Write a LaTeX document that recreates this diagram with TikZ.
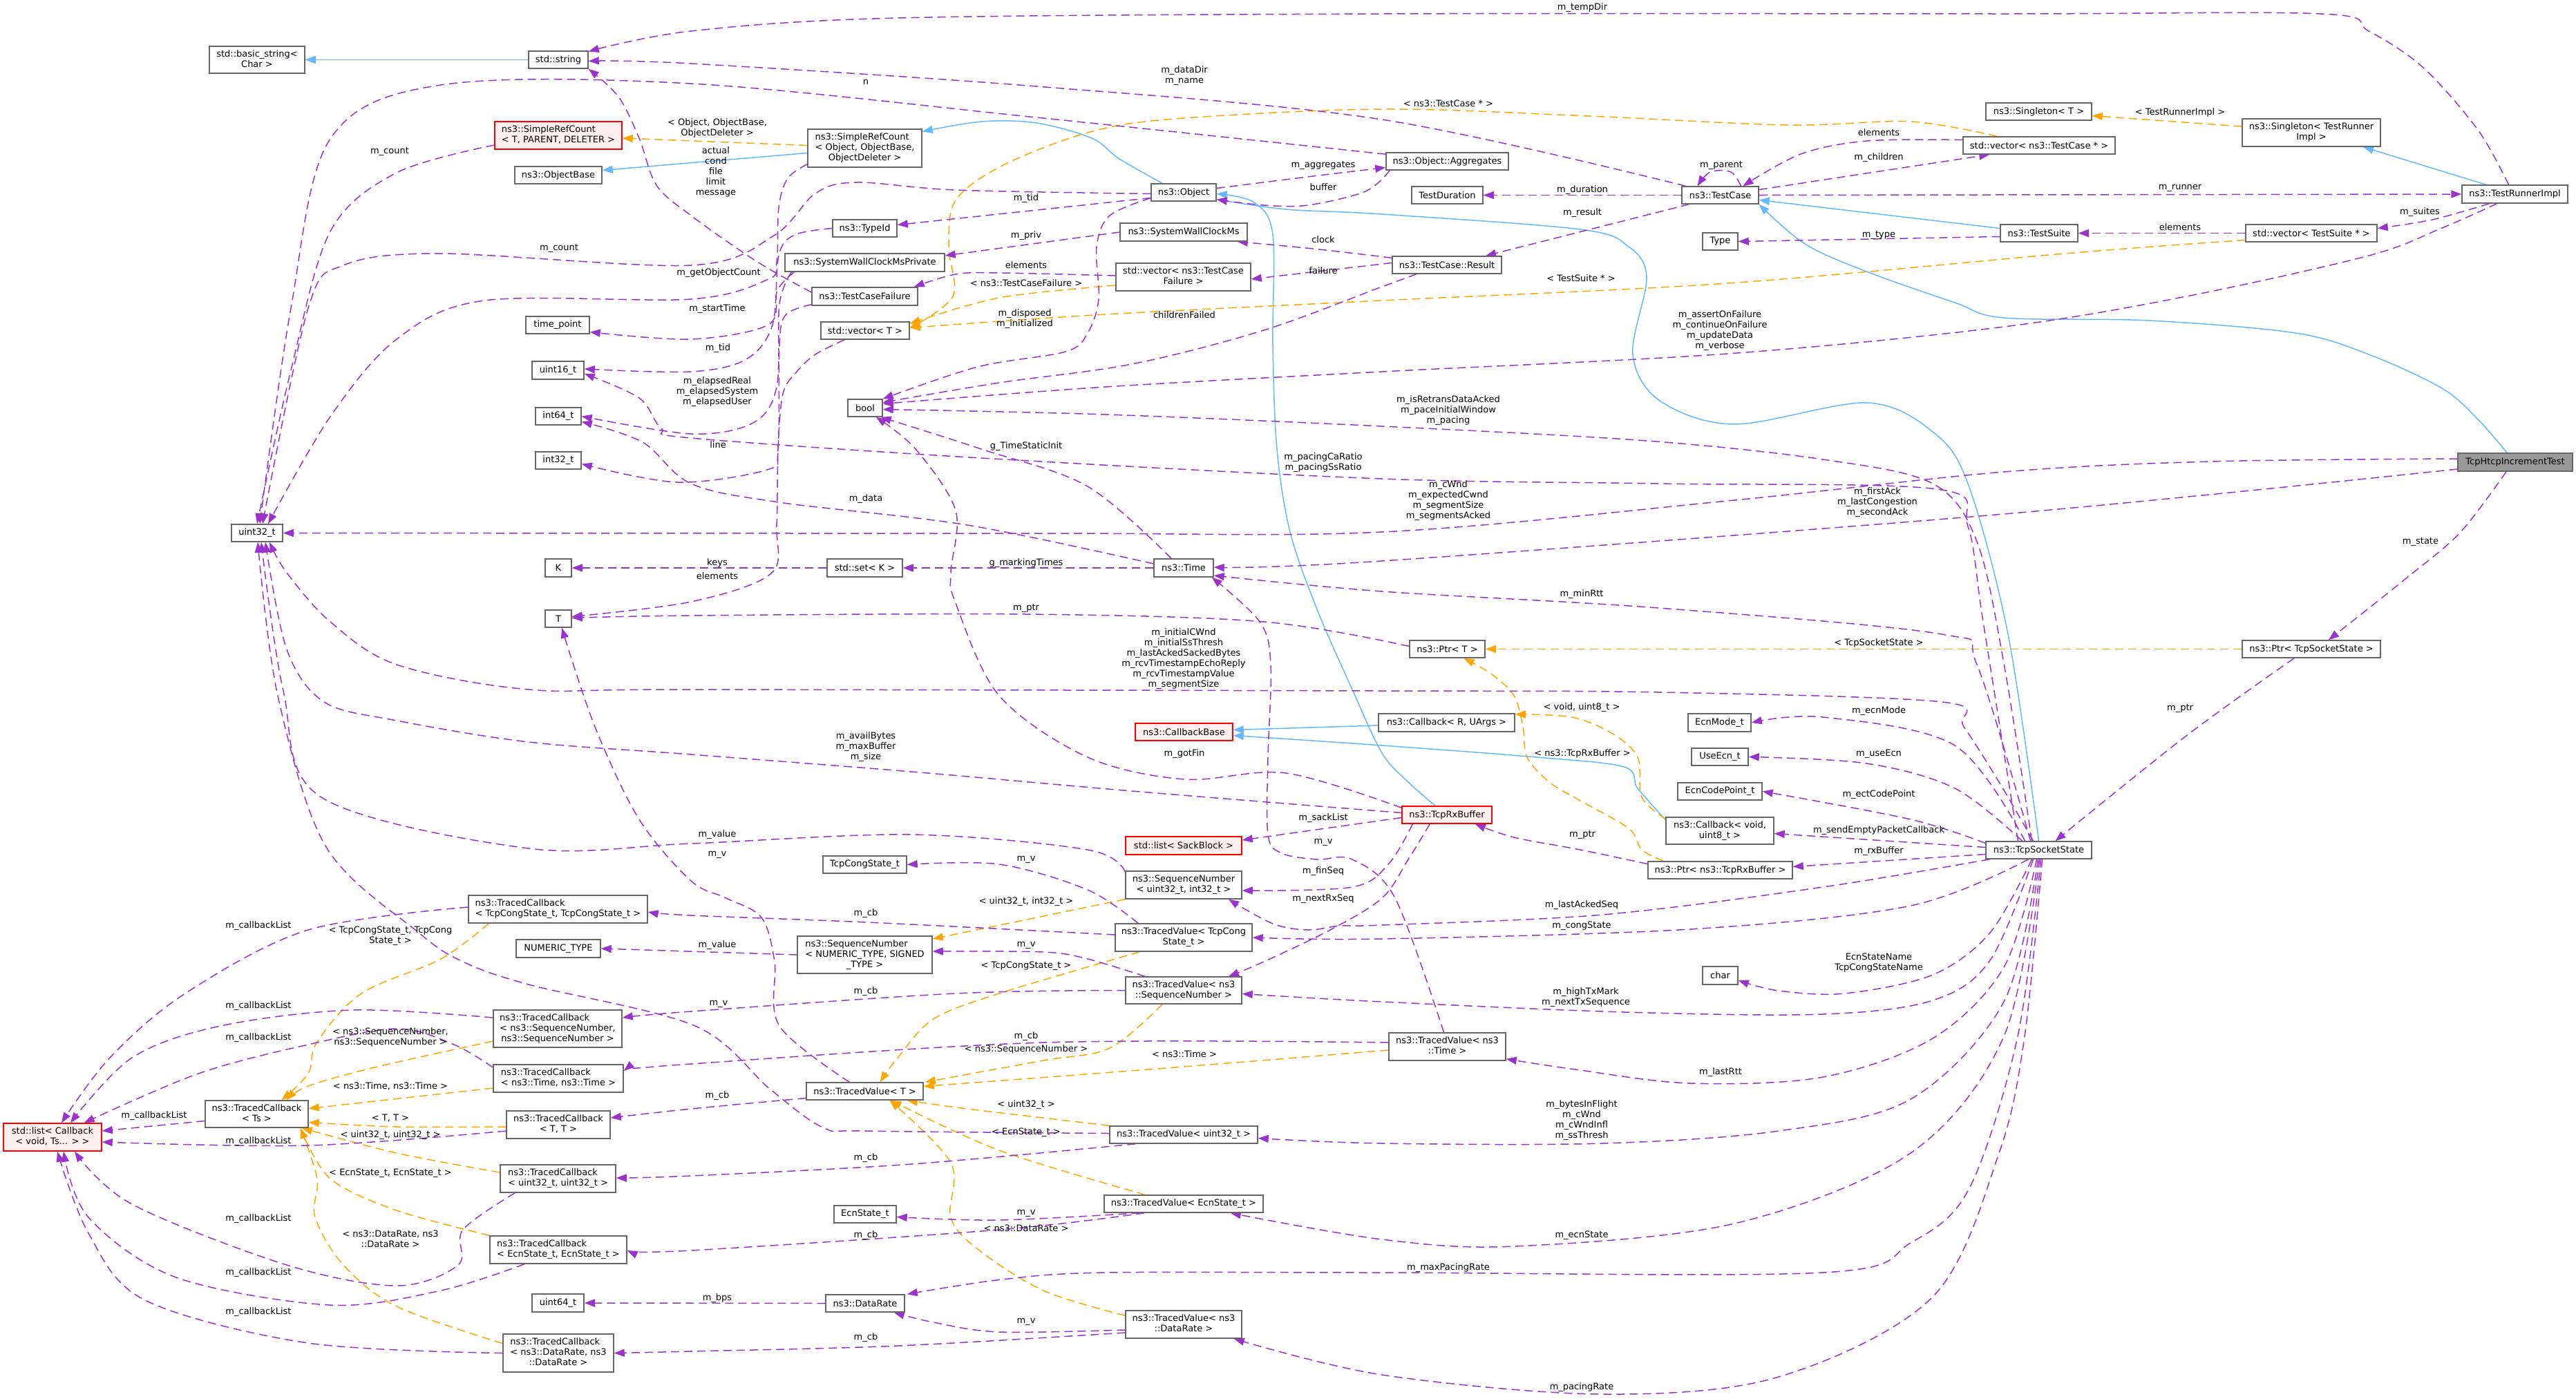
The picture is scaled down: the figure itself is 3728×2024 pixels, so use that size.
\documentclass[tikz,border=0pt]{standalone}
\usepackage{fontspec}
\setmainfont{DejaVu Sans}
\usetikzlibrary{arrows.meta,calc}
\definecolor{purp}{HTML}{9A32CD}
\definecolor{orng}{HTML}{FFA500}
\definecolor{blu}{HTML}{63B8FF}
\definecolor{bgray}{HTML}{666666}
\definecolor{rfill}{HTML}{FFF0F0}
\definecolor{rootfill}{HTML}{999999}
\newcommand\nf{\fontsize{13}{15}\selectfont}
\newcommand\FLn[2]{\begin{tabular}{@{}c@{}}\multicolumn{1}{@{}l@{}}{#1}\\#2\end{tabular}}
\newcommand\Nd[7]{\node[#6,minimum width=#4pt,minimum height=#5pt] (#1) at (#2,#3) {#7};}
\newcommand\Lbl[4]{\node[lbl] (#1) at (#2,#3) {#4};}
\newcommand\Ed[2]{\draw[#1] plot[smooth,tension=0.55] coordinates {#2};}
\pgfdeclarelayer{bg}
\pgfsetlayers{bg,main}
\tikzset{
 box/.style={draw=bgray, fill=white, line width=1.5pt, inner sep=0pt, align=center, font=\nf},
 redbox/.style={box, draw=red, fill=rfill},
 rootbox/.style={box, fill=rootfill},
 lbl/.style={inner sep=0pt, align=center, font=\nf},
 edgebase/.style={line width=1.5pt, -{Triangle[length=15pt,width=11pt]}},
 pe/.style={edgebase, draw=purp, dash pattern=on 12pt off 7pt},
 oe/.style={edgebase, draw=orng, dash pattern=on 12pt off 7pt},
 be/.style={edgebase, draw=blu},
}
\begin{document}
\begin{tikzpicture}[x=1pt,y=-1pt]
\begin{pgfonlayer}{bg}
\path[use as bounding box, fill=white] (0,0) rectangle (3728,2024);
\end{pgfonlayer}
% ---------------- nodes
\Nd{basicstr}{372}{86.5}{138}{39}{box}{\FLn{std::basic\_string<}{Char >}}
\Nd{stdstr}{808}{86.5}{86}{25}{box}{std::string}
\Nd{srcT}{808}{196}{184}{40}{redbox}{\FLn{ns3::SimpleRefCount}{< T, PARENT, DELETER >}}
\Nd{objbase}{808}{253.5}{126}{25}{box}{ns3::ObjectBase}
\Nd{tpoint}{807}{470.5}{92}{25}{box}{time\_point}
\Nd{u16}{807.5}{536}{75}{26}{box}{uint16\_t}
\Nd{i64}{808}{602.5}{66}{25}{box}{int64\_t}
\Nd{i32}{808}{666.5}{66}{25}{box}{int32\_t}
\Nd{u32}{372}{771.5}{74}{25}{box}{uint32\_t}
\Nd{K}{808}{822}{38}{26}{box}{K}
\Nd{T}{808}{895.5}{38}{25}{box}{T}
\Nd{srcO}{1251.5}{214.5}{165}{55}{box}{\FLn{ns3::SimpleRefCount}{< Object, ObjectBase,\\ObjectDeleter >}}
\Nd{obj}{1713}{278.5}{94}{25}{box}{ns3::Object}
\Nd{tid}{1251.5}{330.5}{93}{25}{box}{ns3::TypeId}
\Nd{swcm}{1713}{336}{184}{26}{box}{ns3::SystemWallClockMs}
\Nd{swcmp}{1251.5}{380}{231}{26}{box}{ns3::SystemWallClockMsPrivate}
\Nd{vtcf}{1712.5}{401}{195}{40}{box}{\FLn{std::vector< ns3::TestCase}{Failure >}}
\Nd{tcf}{1251.5}{429}{153}{26}{box}{ns3::TestCaseFailure}
\Nd{vecT}{1252}{478.5}{128}{25}{box}{std::vector< T >}
\Nd{bool}{1252}{590.5}{50}{25}{box}{bool}
\Nd{aggr}{2094.5}{233.5}{177}{25}{box}{ns3::Object::Aggregates}
\Nd{tdur}{2094.5}{282.5}{103}{25}{box}{TestDuration}
\Nd{tcase}{2489.5}{282.5}{111}{25}{box}{ns3::TestCase}
\Nd{type}{2489.5}{349.5}{51}{25}{box}{Type}
\Nd{result}{2094}{383.5}{158}{25}{box}{ns3::TestCase::Result}
\Nd{tsuite}{2951}{337.5}{112}{25}{box}{ns3::TestSuite}
\Nd{vtc}{2951}{210.5}{220}{25}{box}{std::vector< ns3::TestCase * >}
\Nd{singT}{2950.5}{161.5}{153}{25}{box}{ns3::Singleton< T >}
\Nd{singTR}{3345}{192}{200}{40}{box}{\FLn{ns3::Singleton< TestRunner}{Impl >}}
\Nd{runner}{3639.5}{281}{153}{26}{box}{ns3::TestRunnerImpl}
\Nd{vts}{3345}{337.5}{190}{25}{box}{std::vector< TestSuite * >}
\Nd{root}{3640}{669}{166}{26}{rootbox}{TcpHtcpIncrementTest}
\Nd{setK}{1251.5}{822}{109}{26}{box}{std::set< K >}
\Nd{time}{1713}{822}{86}{26}{box}{ns3::Time}
\Nd{cbb}{1713.5}{1059.5}{141}{25}{redbox}{ns3::CallbackBase}
\Nd{sack}{1713}{1224}{168}{26}{redbox}{std::list< SackBlock >}
\Nd{tcs}{1251.5}{1251.5}{121}{25}{box}{TcpCongState\_t}
\Nd{seq32}{1713}{1281}{168}{40}{box}{\FLn{ns3::SequenceNumber}{< uint32\_t, int32\_t >}}
\Nd{ptrT}{2094.5}{939.5}{109}{25}{box}{ns3::Ptr< T >}
\Nd{cbru}{2093.5}{1046}{197}{26}{box}{ns3::Callback< R, UArgs >}
\Nd{ecnm}{2488.5}{1046}{91}{26}{box}{EcnMode\_t}
\Nd{useecn}{2489}{1095.5}{82}{25}{box}{UseEcn\_t}
\Nd{ecncp}{2489}{1145.5}{122}{25}{box}{EcnCodePoint\_t}
\Nd{rxb}{2094}{1179.5}{130}{25}{redbox}{ns3::TcpRxBuffer}
\Nd{cbv}{2489}{1202.5}{156}{39}{box}{\FLn{ns3::Callback< void,}{uint8\_t >}}
\Nd{ptrrx}{2489.5}{1259.5}{209}{25}{box}{ns3::Ptr< ns3::TcpRxBuffer >}
\Nd{tss}{2950.5}{1230.5}{153}{25}{box}{ns3::TcpSocketState}
\Nd{ptrtss}{3345}{939.5}{200}{25}{box}{ns3::Ptr< TcpSocketState >}
\Nd{list}{76}{1646}{142}{40}{redbox}{\FLn{std::list< Callback}{< void, Ts... > >}}
\Nd{tcts}{371.5}{1612.5}{149}{39}{box}{\FLn{ns3::TracedCallback}{< Ts >}}
\Nd{tccong}{807.5}{1316}{259}{40}{box}{\FLn{ns3::TracedCallback}{< TcpCongState\_t, TcpCongState\_t >}}
\Nd{numt}{808}{1373}{122}{26}{box}{NUMERIC\_TYPE}
\Nd{tcseq}{807}{1489}{186}{54}{box}{\FLn{ns3::TracedCallback}{< ns3::SequenceNumber,\\ns3::SequenceNumber >}}
\Nd{tctime}{808}{1561}{188}{40}{box}{\FLn{ns3::TracedCallback}{< ns3::Time, ns3::Time >}}
\Nd{tctt}{808}{1628}{150}{40}{box}{\FLn{ns3::TracedCallback}{< T, T >}}
\Nd{tcu32}{807.5}{1706}{167}{40}{box}{\FLn{ns3::TracedCallback}{< uint32\_t, uint32\_t >}}
\Nd{tcecn}{808}{1809}{198}{40}{box}{\FLn{ns3::TracedCallback}{< EcnState\_t, EcnState\_t >}}
\Nd{u64}{807.5}{1886}{75}{26}{box}{uint64\_t}
\Nd{tcdr}{808}{1958.5}{160}{55}{box}{\FLn{ns3::TracedCallback}{< ns3::DataRate, ns3\\::DataRate >}}
\Nd{seqn}{1251.5}{1382}{195}{54}{box}{\FLn{ns3::SequenceNumber}{< NUMERIC\_TYPE, SIGNED\\\_TYPE >}}
\Nd{tvcong}{1713}{1357}{198}{40}{box}{\FLn{ns3::TracedValue< TcpCong}{State\_t >}}
\Nd{tvseq}{1713}{1433.5}{168}{39}{box}{\FLn{ns3::TracedValue< ns3}{::SequenceNumber >}}
\Nd{tvT}{1251.5}{1579.5}{169}{25}{box}{ns3::TracedValue< T >}
\Nd{tvu32}{1713}{1642.5}{214}{25}{box}{ns3::TracedValue< uint32\_t >}
\Nd{tvecn}{1713}{1742.5}{230}{25}{box}{ns3::TracedValue< EcnState\_t >}
\Nd{ecns}{1252}{1757.5}{90}{25}{box}{EcnState\_t}
\Nd{drate}{1252}{1886.5}{114}{25}{box}{ns3::DataRate}
\Nd{tvdr}{1713}{1917}{168}{40}{box}{\FLn{ns3::TracedValue< ns3}{::DataRate >}}
\Nd{chr}{2489.5}{1412}{51}{26}{box}{char}
\Nd{tvtime}{2094.5}{1515}{169}{40}{box}{\FLn{ns3::TracedValue< ns3}{::Time >}}
% ---------------- edges
\begin{pgfonlayer}{bg}
% inheritance (blue)
\draw[be] (stdstr.west) -- (basicstr.east);
\Ed{be}{($(root.north)+(-12,0)$) (3586,607) (3534,562) (3428,513) (3322,482) (3111,464) (2900,460) (2829,438) (2701,393) (2612,353) (tcase.south east)}
\draw[be] ($(runner.north)+(-42,0)$) -- ($(singTR.south)+(75,0)$);
\draw[be] ($(tsuite.west)+(0,-7)$) -- ($(tcase.east)+(0,7)$);
\draw[be] ($(srcO.west)+(0,7)$) -- ($(objbase.east)+(0,-7)$);
\Ed{be}{($(obj.north)+(-31,0)$) (1620,230) (1580,200) (1500,178) (1420,176) ($(srcO.east)+(0,-24)$)}
\Ed{be}{($(rxb.north)+(-17,0)$) (2038,1132) (2000,1090) (1957,998) (1906,882) (1867,770) (1848,650) (1842,500) (1842,340) (1815,293) ($(obj.east)+(0,2)$)}
\Ed{be}{(tss.north) (2906,918) (2848,700) (2797,625) (2701,583) (2510,614) (2402,580) (2363,513) (2383,402) (2357,357) (2287,332) (2000,310) (1861,303) ($(obj.east)+(0,10)$)}
\draw[be] ($(cbru.west)+(0,4)$) -- ($(cbb.east)+(0,-3)$);
\Ed{be}{($(cbv.west)+(0,-16)$) (2370,1141) (2350,1110) (2223,1096) (2000,1079) ($(cbb.east)+(0,5)$)}
% template (orange)
\draw[oe] ($(singTR.west)+(0,-9)$) -- ($(singT.east)+(0,6)$);
\Ed{oe}{($(vtc.north)+(-61,0)$) (2765,176) (2587,181) (2300,168) (2000,158) (1700,172) (1574,192) (1450,240) (1383,290) (1373,357) (1379,429) ($(vecT.east)+(0,-4)$)}
\Ed{oe}{($(vts.west)+(0,10)$) (3000,366) (2500,410) (2000,435) (1600,455) ($(vecT.east)+(0,-4)$)}
\Ed{oe}{($(vtcf.west)+(0,12)$) (1446,431) ($(vecT.east)+(0,-10)$)}
\draw[oe] ($(srcO.west)+(0,-4)$) -- ($(srcT.east)+(0,4)$);
\draw[oe] (ptrtss.west) -- (ptrT.east);
\Ed{oe}{($(ptrrx.north west)+(23,0)$) (2376,1230) (2357,1199) (2287,1159) (2242,1132) (2210,1096) (2204,1052) (2191,1007) (2159,976) ($(ptrT.south)+(24,0)$)}
\Ed{oe}{($(cbv.north west)+(0,3)$) (2376,1154) (2370,1096) (2332,1061) (2274,1038) ($(cbru.east)+(0,-12)$)}
\draw[oe] (seq32.south west) -- ($(seqn.east)+(0,-23)$);
\Ed{oe}{($(tvcong.south west)+(36,0)$) (1446,1438) (1351,1475) (1300,1530) ($(tvT.north)+(22,0)$)}
\Ed{oe}{($(tvseq.south)+(-31,0)$) (1606,1517) (1510,1535) ($(tvT.north east)+(2,0)$)}
\Ed{oe}{($(tvtime.west)+(0,5)$) (1700,1545) ($(tvT.east)+(0,-7)$)}
\Ed{oe}{(tvu32.north west) (1400,1605) ($(tvT.south east)+(-24,0)$)}
\Ed{oe}{($(tvecn.north)+(-56,0)$) (1446,1665) ($(tvT.south)+(38,0)$)}
\Ed{oe}{($(tvdr.north west)+(0,8)$) (1510,1868) (1415,1808) (1376,1762) (1376,1683) ($(tvT.south)+(36,0)$)}
\Ed{oe}{($(tccong.south west)+(30,0)$) (638,1388) (523,1438) (459,1508) (446,1554) ($(tcts.north)+(36,0)$)}
\Ed{oe}{($(tcseq.west)+(0,18)$) (542,1545) (446,1572) ($(tcts.north)+(43,0)$)}
\draw[oe] ($(tctime.west)+(0,14)$) -- ($(tcts.east)+(0,-8)$);
\Ed{oe}{($(tctt.west)+(0,3)$) (574,1631) ($(tcts.east)+(0,12)$)}
\Ed{oe}{($(tcu32.west)+(0,-9)$) (574,1669) ($(tcts.south east)+(-10,0)$)}
\Ed{oe}{(tcecn.north west) (574,1752) (478,1706) ($(tcts.south east)+(-12,0)$)}
\Ed{oe}{($(tcdr.west)+(0,-14)$) (574,1891) (497,1831) (456,1762) (459,1706) ($(tcts.south east)+(-12,0)$)}
% usage (purple)
\Ed{pe}{($(root.west)+(0,-5)$) (3200,668) (2900,683) (2500,725) (2000,770) (1500,772) (u32.east)}
\Ed{pe}{($(root.west)+(0,10)$) (2900,744) (2000,812) ($(time.east)+(0,-1)$)}
\Ed{pe}{($(root.south)+(-13,0)$) (3560,771) (3481,838) ($(ptrtss.north)+(25,0)$)}
\Ed{pe}{($(runner.north)+(-9,0)$) (3586,188) (3507,98) (3428,45) (3359,20) (2900,20) (2000,20) (1300,26) (1000,45) ($(stdstr.east)+(0,-12)$)}
\Ed{pe}{($(runner.south)+(-37,0)$) (3520,318) ($(vts.east)+(0,-7)$)}
\Ed{pe}{($(runner.south)+(-26,0)$) (3534,330) (3428,370) (3164,429) (2900,473) (2500,512) (2000,538) (1600,560) ($(bool.east)+(0,-6)$)}
\draw[pe] (tcase.east) -- (runner.west);
\Ed{pe}{($(tcase.north west)+(6,0)$) (2000,173) (1500,125) (1000,92) ($(stdstr.east)+(0,2)$)}
\Ed{pe}{($(aggr.north west)+(0,3)$) (1500,170) (1000,121) (638,123) (478,201) (421,446) ($(u32.north)+(4,0)$)}
\Ed{pe}{($(aggr.south west)+(6,0)$) (1976,277) (1893,297) (1829,297) ($(obj.south east)+(0,-3)$)}
\Ed{pe}{($(obj.east)+(0,-6)$) (1900,255) ($(aggr.west)+(0,9)$)}
\draw[pe] ($(obj.west)+(0,8)$) -- ($(tid.east)+(0,-5)$);
\Ed{pe}{($(obj.south west)+(0,-5)$) (1606,312) (1587,357) (1590,433) (1574,482) (1542,509) (1415,531) (bool.north east)}
\Ed{pe}{($(obj.west)+(0,2)$) (1383,275) (1240,264) (1180,280) (1120,341) (1000,384) (638,367) (497,384) (446,446) ($(u32.north)+(8,0)$)}
\Ed{pe}{($(srcO.south west)+(0,-5)$) (1140,258) (1127,300) (1124,380) (1110,405) (1000,433) (701,435) (574,491) (478,603) ($(u32.north)+(16,0)$)}
\Ed{pe}{($(srcT.west)+(0,14)$) (574,250) (478,335) (421,536) (u32.north)}
\Ed{pe}{($(tcf.west)+(0,-6)$) (1096,379) (1000,312) (950,268) (925,200) (895,140) (stdstr.south east)}
\draw[pe] (swcm.west) -- ($(swcmp.east)+(0,-10)$);
\Ed{pe}{(tid.west) (1150,340) (1127,370) (1118,470) (1080,520) (1000,538) ($(u16.east)+(0,-2)$)}
\Ed{pe}{($(swcmp.south west)+(14,0)$) (1125,420) (1112,470) (1000,491) ($(tpoint.east)+(0,10)$)}
\Ed{pe}{($(swcmp.south west)+(10,0)$) (1128,440) (1124,560) (1090,612) (1000,628) (i64.east)}
\Ed{pe}{($(tcf.south west)+(0,-2)$) (1137,456) (1128,500) (1126,650) (1110,680) (980,698) ($(i32.east)+(0,5)$)}
\Ed{pe}{($(time.west)+(0,-6)$) (1400,760) (1127,727) (1000,700) (930,640) ($(i64.east)+(0,8)$)}
\Ed{pe}{($(tss.north)+(-30,0)$) (2870,900) (2848,762) (2803,708) (2400,700) (2000,693) (1420,663) (1000,634) (957,620) (925,576) ($(u16.east)+(0,5)$)}
\Ed{pe}{($(tss.north)+(-8,0)$) (2893,1132) (2842,1052) (2810,1016) (2400,1002) (2000,1000) (1000,998) (765,998) (574,962) (478,900) (415,829) ($(u32.south)+(18,0)$)}
\Ed{pe}{($(tss.north)+(-10,0)$) (2900,960) (2861,784) (2797,700) (2638,665) (2383,638) (2000,617) (1600,600) ($(bool.east)+(0,2)$)}
\Ed{pe}{($(tss.north)+(-12,0)$) (2861,962) (2810,918) (2400,880) (2000,856) ($(time.east)+(0,11)$)}
\Ed{pe}{($(tss.north)+(-20,0)$) (2829,1079) (2638,1038) (ecnm.east)}
\Ed{pe}{($(tss.north)+(-24,0)$) (2829,1141) (2701,1105) (useecn.east)}
\Ed{pe}{($(tss.west)+(0,-10)$) (2765,1186) (ecncp.east)}
\draw[pe] ($(tss.west)+(0,-4)$) -- ($(cbv.east)+(0,4)$);
\draw[pe] ($(tss.west)+(0,6)$) -- ($(ptrrx.east)+(0,-5)$);
\Ed{pe}{($(tss.south west)+(6,0)$) (2638,1284) (2319,1324) (2000,1339) (1940,1340) (1893,1346) (1842,1337) ($(seq32.south)+(65,0)$)}
\Ed{pe}{($(tss.south)+(-15,0)$) (2765,1311) (2446,1345) (2000,1359) (tvcong.east)}
\Ed{pe}{($(tss.south)+(-8,0)$) (2880,1390) (2797,1448) (2638,1468) (2351,1465) (2000,1450) ($(tvseq.east)+(0,5)$)}
\Ed{pe}{($(tss.south)+(-10,0)$) (2880,1350) (2797,1411) (2670,1438) (2574,1434) ($(chr.east)+(0,7)$)}
\Ed{pe}{($(tss.south)+(-3,0)$) (2900,1400) (2797,1503) (2638,1559) (2446,1568) (2280,1548) ($(tvtime.south east)+(0,-3)$)}
\Ed{pe}{($(tss.south)+(-1,0)$) (2900,1450) (2765,1591) (2574,1637) (2319,1655) (2000,1655) ($(tvu32.east)+(0,5)$)}
\Ed{pe}{($(tss.south)+(1,0)$) (2900,1500) (2765,1669) (2510,1771) (2191,1804) (2000,1794) ($(tvecn.south east)+(-48,0)$)}
\Ed{pe}{($(tss.south)+(3,0)$) (2920,1500) (2850,1720) (2765,1799) (2638,1842) (2000,1842) (1600,1842) (1450,1852) ($(drate.north east)+(3,0)$)}
\Ed{pe}{($(tss.south)+(5,0)$) (2930,1500) (2893,1669) (2797,1877) (2574,1993) (2319,2018) (2000,1990) ($(tvdr.south east)+(-12,0)$)}
\Ed{pe}{($(ptrtss.south)+(-25,0)$) (3164,1065) ($(tss.north)+(24,0)$)}
\Ed{pe}{($(ptrT.west)+(0,-4)$) (1829,900) (1485,889) (1000,891) ($(T.east)+(0,-1)$)}
\Ed{pe}{($(rxb.west)+(0,-3)$) (1638,1145) (1319,1117) (1000,1092) (765,1074) (574,1043) (469,1016) (415,940) ($(u32.south)+(12,0)$)}
\Ed{pe}{($(rxb.north west)+(0,3)$) (1861,1119) (1714,1128) (1574,1096) (1446,1007) (1383,873) (1376,829) (1383,739) (1325,650) ($(bool.south east)+(-10,0)$)}
\draw[pe] ($(rxb.west)+(0,4)$) -- ($(sack.east)+(0,-8)$);
\Ed{pe}{($(rxb.south west)+(16,0)$) (2010,1250) (1957,1284) ($(seq32.east)+(0,8)$)}
\Ed{pe}{($(rxb.south west)+(41,0)$) (2038,1244) (2000,1300) (1925,1346) (1829,1392) ($(tvseq.north)+(65,0)$)}
\Ed{pe}{($(ptrrx.west)+(0,-9)$) (2287,1230) (2191,1212) ($(rxb.south east)+(-25,0)$)}
\draw[pe] (time.west) -- (setK.east);
\Ed{pe}{($(time.north)+(-18,0)$) (1574,704) (1420,650) ($(bool.south east)+(-3,0)$)}
\draw[pe] (setK.west) -- (K.east);
\Ed{pe}{($(vecT.south west)+(35,0)$) (1180,513) (1153,538) (1133,570) (1126,650) (1124,760) (1116,830) (1000,871) ($(T.east)+(0,-3)$)}
\Ed{pe}{($(tvtime.north)+(-5,0)$) (2019,1300) (1957,1244) (1906,1244) (1855,1235) (1835,1208) (1835,1096) (1839,962) (1823,900) ($(time.south east)+(-3,0)$)}
\Ed{pe}{($(tvT.north west)+(63,0)$) (1128,1485) (1121,1392) (1102,1328) (1051,1300) (1000,1275) (925,1186) (861,1052) ($(T.south)+(5,0)$)}
\Ed{pe}{($(seq32.west)+(0,-19)$) (1574,1230) (1319,1208) (1000,1221) (765,1228) (465,1154) (410,1000) ($(u32.south)+(6,0)$)}
\Ed{pe}{($(tvu32.west)+(0,-2)$) (1255,1637) (1191,1632) (1115,1577) (1006,1485) (765,1425) (670,1392) (606,1350) (472,1226) (402,1007) ($(u32.south)+(1,0)$)}
\Ed{pe}{($(tvcong.west)+(0,-4)$) (1255,1335) (1000,1325) ($(tccong.east)+(0,4)$)}
\Ed{pe}{($(tvcong.north)+(-66,0)$) (1574,1288) (1446,1251) (tcs.east)}
\Ed{pe}{(tvseq.west) (1383,1438) (1000,1464) ($(tcseq.east)+(0,-16)$)}
\Ed{pe}{($(tvseq.north)+(-56,0)$) (1574,1388) (1510,1378) ($(seqn.east)+(0,-5)$)}
\draw[pe] (seqn.west) -- (numt.east);
\Ed{pe}{($(tvtime.west)+(0,-6)$) (1510,1509) (1000,1540) ($(tctime.east)+(0,-11)$)}
\Ed{pe}{($(tvT.west)+(0,10)$) (1000,1605) ($(tctt.east)+(0,-10)$)}
\Ed{pe}{($(tvu32.south west)+(38,0)$) (1319,1685) (1000,1702) ($(tcu32.east)+(0,-1)$)}
\Ed{pe}{($(tvecn.south west)+(52,0)$) (1446,1766) ($(ecns.east)+(0,4)$)}
\Ed{pe}{($(tvecn.south west)+(59,0)$) (1446,1780) (1000,1810) ($(tcecn.east)+(0,1)$)}
\Ed{pe}{($(tvdr.west)+(0,8)$) (1446,1928) (1351,1914) ($(drate.south east)+(-16,0)$)}
\Ed{pe}{($(tvdr.west)+(0,12)$) (1300,1948) (1000,1956) (tcdr.east)}
\draw[pe] (drate.west) -- (u64.east);
\draw[pe] ($(tcts.west)+(0,10)$) -- ($(list.east)+(0,-9)$);
\Ed{pe}{($(tccong.west)+(0,-3)$) (446,1346) (268,1438) (159,1531) ($(list.north)+(13,0)$)}
\Ed{pe}{($(tcseq.west)+(0,-16)$) (510,1462) (319,1485) (191,1531) ($(list.north)+(26,0)$)}
\Ed{pe}{($(tctime.west)+(0,-16)$) (657,1512) (574,1489) (446,1512) (287,1554) ($(list.north east)+(-26,0)$)}
\Ed{pe}{($(tctt.west)+(0,9)$) (446,1658) ($(list.east)+(0,7)$)}
\Ed{pe}{($(tcu32.south west)+(22,0)$) (670,1780) (663,1831) (574,1861) (415,1831) (191,1743) ($(list.south)+(32,0)$)}
\Ed{pe}{($(tcecn.south)+(-49,0)$) (638,1868) (478,1889) (255,1849) (128,1762) ($(list.south)+(16,0)$)}
\Ed{pe}{(tcdr.west) (446,1944) (210,1882) (128,1785) ($(list.south)+(7,0)$)}
\Ed{pe}{($(vtcf.west)+(0,-2)$) (1446,395) (1383,397) ($(tcf.north east)+(-6,0)$)}
\draw[pe] ($(result.west)+(0,-3)$) -- ($(vtcf.east)+(0,3)$);
\Ed{pe}{($(result.north west)+(0,3)$) (1900,360) ($(swcm.south east)+(-15,0)$)}
\Ed{pe}{($(result.south west)+(36,0)$) (2000,415) (1829,478) (1638,527) (1446,554) ($(bool.east)+(0,-8)$)}
\draw[pe] (tcase.west) -- (tdur.east);
\draw[pe] ($(tcase.south west)+(11,0)$) -- ($(result.north)+(56,0)$);
\draw[pe] ($(tcase.east)+(0,-8)$) -- ($(vtc.south west)+(39,0)$);
\Ed{pe}{($(vtc.west)+(0,-8)$) (2702,204) (2606,223) ($(tcase.north)+(33,0)$)}
\Ed{pe}{($(tcase.north)+(30,0)$) (2505,249) (2475,249) ($(tcase.north)+(-33,0)$)}
\draw[pe] ($(tsuite.west)+(0,5)$) -- (type.east);
\draw[pe] (vts.west) -- (tsuite.east);
\end{pgfonlayer}
% ---------------- labels
\Lbl{l1}{2290}{11}{m\_tempDir}
\Lbl{l2}{1253}{119}{n}
\Lbl{l3}{1714}{110}{m\_dataDir\\m\_name}
\Lbl{l4}{1038}{185}{< Object, ObjectBase,\\ObjectDeleter >}
\Lbl{l5}{564}{219}{m\_count}
\Lbl{l6}{1036}{249}{actual\\cond\\file\\limit\\message}
\Lbl{l7}{809}{359}{m\_count}
\Lbl{l8}{1040}{395}{m\_getObjectCount}
\Lbl{l9}{1038}{447}{m\_startTime}
\Lbl{l10}{1039}{504}{m\_tid}
\Lbl{l11}{1038}{567}{m\_elapsedReal\\m\_elapsedSystem\\m\_elapsedUser}
\Lbl{l12}{1039}{644}{line}
\Lbl{l13}{1915}{239}{m\_aggregates}
\Lbl{l14}{1915}{271}{buffer}
\Lbl{l15}{1485}{287}{m\_tid}
\Lbl{l16}{1485}{341}{m\_priv}
\Lbl{l17}{1915}{347}{clock}
\Lbl{l18}{1485}{384}{elements}
\Lbl{l19}{1915}{392}{failure}
\Lbl{l20}{1485}{410}{< ns3::TestCaseFailure >}
\Lbl{l21}{1483}{462}{m\_disposed\\m\_initialized}
\Lbl{l22}{1714}{456}{childrenFailed}
\Lbl{l23}{1485}{646}{g\_TimeStaticInit}
\Lbl{l24}{1915}{670}{m\_pacingCaRatio\\m\_pacingSsRatio}
\Lbl{l25}{1253}{722}{m\_data}
\Lbl{l26}{1038}{815}{keys}
\Lbl{l27}{1038}{834}{elements}
\Lbl{l28}{1485}{815}{g\_markingTimes}
\Lbl{l29}{1485}{880}{m\_ptr}
\Lbl{l30}{1713}{954}{m\_initialCWnd\\m\_initialSsThresh\\m\_lastAckedSackedBytes\\m\_rcvTimestampEchoReply\\m\_rcvTimestampValue\\m\_segmentSize}
\Lbl{l31}{1253}{1081}{m\_availBytes\\m\_maxBuffer\\m\_size}
\Lbl{l32}{1714}{1091}{m\_gotFin}
\Lbl{l33}{1038}{1208}{m\_value}
\Lbl{l34}{1038}{1237}{m\_v}
\Lbl{l35}{1915}{1184}{m\_sackList}
\Lbl{l36}{1915}{1219}{m\_v}
\Lbl{l37}{1915}{1261}{m\_finSeq}
\Lbl{l38}{1915}{1301}{m\_nextRxSeq}
\Lbl{l39}{1485}{1305}{< uint32\_t, int32\_t >}
\Lbl{l40}{1253}{1322}{m\_cb}
\Lbl{l41}{1485}{1244}{m\_v}
\Lbl{l42}{1038}{1368}{m\_value}
\Lbl{l43}{1485}{1368}{m\_v}
\Lbl{l44}{1485}{1398}{< TcpCongState\_t >}
\Lbl{l45}{1253}{1435}{m\_cb}
\Lbl{l46}{1040}{1453}{m\_v}
\Lbl{l47}{1485}{1500}{m\_cb}
\Lbl{l48}{1485}{1519}{< ns3::SequenceNumber >}
\Lbl{l49}{1714}{1526}{< ns3::Time >}
\Lbl{l50}{1038}{1586}{m\_cb}
\Lbl{l51}{1485}{1599}{< uint32\_t >}
\Lbl{l52}{1485}{1639}{< EcnState\_t >}
\Lbl{l53}{1253}{1676}{m\_cb}
\Lbl{l54}{1485}{1756}{m\_v}
\Lbl{l55}{1485}{1778}{< ns3::DataRate >}
\Lbl{l56}{1253}{1788}{m\_cb}
\Lbl{l57}{1038}{1879}{m\_bps}
\Lbl{l58}{1485}{1913}{m\_v}
\Lbl{l59}{1253}{1936}{m\_cb}
\Lbl{l60}{2096}{150}{< ns3::TestCase * >}
\Lbl{l61}{2719}{192}{elements}
\Lbl{l62}{2719}{228}{m\_children}
\Lbl{l63}{2491}{239}{m\_parent}
\Lbl{l64}{2290}{275}{m\_duration}
\Lbl{l65}{2290}{308}{m\_result}
\Lbl{l66}{2719}{340}{m\_type}
\Lbl{l67}{2288}{403}{< TestSuite * >}
\Lbl{l68}{2489}{479}{m\_assertOnFailure\\m\_continueOnFailure\\m\_updateData\\m\_verbose}
\Lbl{l69}{2096}{594}{m\_isRetransDataAcked\\m\_paceInitialWindow\\m\_pacing}
\Lbl{l70}{3155}{163}{< TestRunnerImpl >}
\Lbl{l71}{3155}{272}{m\_runner}
\Lbl{l72}{3502}{307}{m\_suites}
\Lbl{l73}{3155}{329}{elements}
\Lbl{l74}{2096}{725}{m\_cWnd\\m\_expectedCwnd\\m\_segmentSize\\m\_segmentsAcked}
\Lbl{l75}{2717}{727}{m\_firstAck\\m\_lastCongestion\\m\_secondAck}
\Lbl{l76}{2289}{860}{m\_minRtt}
\Lbl{l77}{2719}{931}{< TcpSocketState >}
\Lbl{l78}{2289}{1024}{< void, uint8\_t >}
\Lbl{l79}{2719}{1029}{m\_ecnMode}
\Lbl{l80}{2290}{1091}{< ns3::TcpRxBuffer >}
\Lbl{l81}{2719}{1091}{m\_useEcn}
\Lbl{l82}{2719}{1150}{m\_ectCodePoint}
\Lbl{l83}{2290}{1208}{m\_ptr}
\Lbl{l84}{2719}{1202}{m\_sendEmptyPacketCallback}
\Lbl{l85}{2719}{1232}{m\_rxBuffer}
\Lbl{l86}{2289}{1310}{m\_lastAckedSeq}
\Lbl{l87}{2289}{1340}{m\_congState}
\Lbl{l88}{3503}{784}{m\_state}
\Lbl{l89}{3155}{1025}{m\_ptr}
\Lbl{l90}{2719}{1394}{EcnStateName\\TcpCongStateName}
\Lbl{l91}{2295}{1444}{m\_highTxMark\\m\_nextTxSequence}
\Lbl{l92}{2490}{1552}{m\_lastRtt}
\Lbl{l93}{2289}{1622}{m\_bytesInFlight\\m\_cWnd\\m\_cWndInfl\\m\_ssThresh}
\Lbl{l94}{2289}{1788}{m\_ecnState}
\Lbl{l95}{2096}{1835}{m\_maxPacingRate}
\Lbl{l96}{2289}{2008}{m\_pacingRate}
\Lbl{l97}{374}{1340}{m\_callbackList}
\Lbl{l98}{565}{1355}{< TcpCongState\_t, TcpCong\\State\_t >}
\Lbl{l99}{374}{1456}{m\_callbackList}
\Lbl{l100}{565}{1501}{< ns3::SequenceNumber,\\ns3::SequenceNumber >}
\Lbl{l101}{374}{1502}{m\_callbackList}
\Lbl{l102}{565}{1572}{< ns3::Time, ns3::Time >}
\Lbl{l103}{223}{1615}{m\_callbackList}
\Lbl{l104}{565}{1618}{< T, T >}
\Lbl{l105}{565}{1643}{< uint32\_t, uint32\_t >}
\Lbl{l106}{374}{1652}{m\_callbackList}
\Lbl{l107}{565}{1698}{< EcnState\_t, EcnState\_t >}
\Lbl{l108}{374}{1764}{m\_callbackList}
\Lbl{l109}{565}{1793}{< ns3::DataRate, ns3\\::DataRate >}
\Lbl{l110}{374}{1842}{m\_callbackList}
\Lbl{l111}{374}{1899}{m\_callbackList}
\end{tikzpicture}
\end{document}
